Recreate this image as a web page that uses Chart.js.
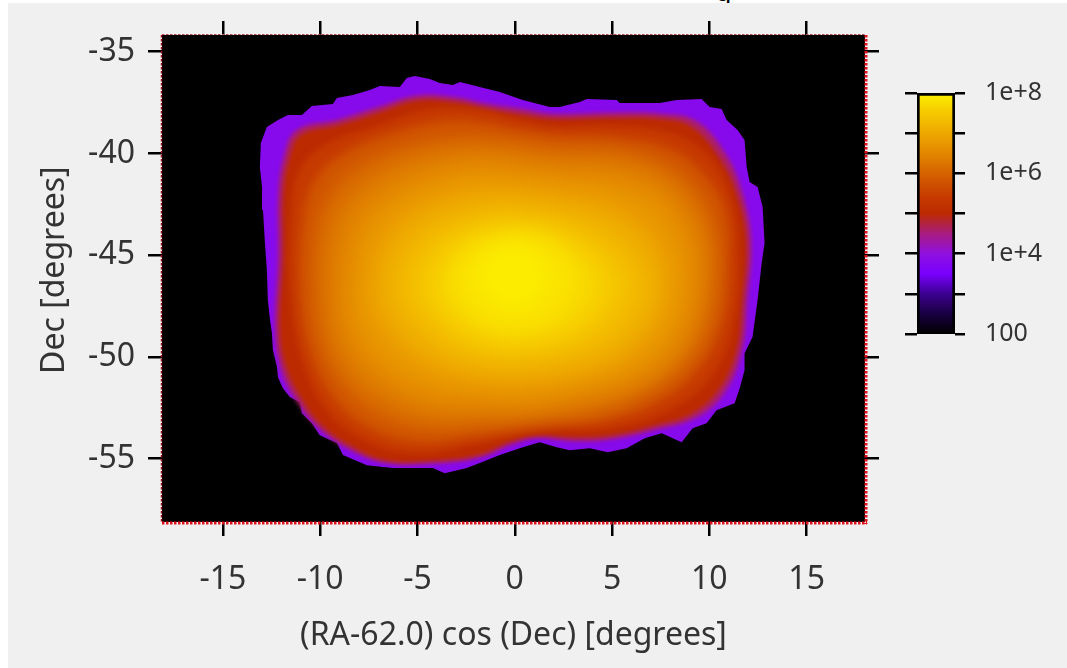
<!DOCTYPE html>
<html>
<head>
<meta charset="utf-8">
<script src="https://cdn.jsdelivr.net/npm/chart.js@4"></script>
<style>
html,body{margin:0;padding:0;background:#f0f0f0;width:1067px;height:668px;overflow:hidden}
#main{position:absolute;left:0;top:0}
#bar{position:absolute;left:880px;top:70px}
#topband{position:absolute;left:0;top:0;width:1067px;height:3px;background:#fff;overflow:hidden}
#leftband{position:absolute;left:0;top:0;width:8px;height:668px;background:#fff}
#topband span{position:absolute;left:715px;top:-28px;font:27px "Noto Sans";color:#000}
</style>
</head>
<body>
<canvas id="main" width="1067" height="668"></canvas>
<canvas id="bar" width="187" height="290"></canvas>
<div id="leftband"></div>
<div id="topband"><span>g</span></div>
<script>
const xTicks=[-15,-10,-5,0,5,10,15];
const yTicks=[-35,-40,-45,-50,-55];
const xLabel="(RA-62.0) cos (Dec) [degrees]";
const yLabel="  Dec [degrees]";
const cbTicks=[1e2,1e3,1e4,1e5,1e6,1e7,1e8];
const cbLabels={2:"100",4:"1e+4",6:"1e+6",8:"1e+8"};
const cbPos=[2,2.5,3,3.5,4,4.5,5,5.4,5.8,6.1,6.4,6.7,7,7.25,7.5,7.7,7.85,7.95,8];
const cbCol=["#000000","#180040","#3c0090","#7a00ff","#9010e0","#a81c80","#bc2a00","#c63a00","#d05500","#d86a00","#e08000","#e89400","#eea800","#f2b800","#f6c800","#f8d800","#fae400","#fbec00","#ffee00"];

const edge=[[-13.05,-39.49],[-12.74,-38.70],[-12.17,-38.36],[-11.66,-38.11],[-10.94,-38.11],[-10.43,-37.67],[-9.35,-37.57],[-9.14,-37.28],[-8.32,-37.13],[-7.45,-36.88],[-6.93,-36.69],[-5.91,-36.74],[-5.55,-36.29],[-5.14,-36.20],[-4.37,-36.34],[-3.85,-36.54],[-3.18,-36.64],[-2.82,-36.49],[-1.80,-36.74],[-0.77,-36.98],[0.41,-37.38],[1.80,-37.72],[2.31,-37.72],[3.34,-37.47],[3.70,-37.33],[5.24,-37.38],[5.39,-37.52],[7.45,-37.52],[8.32,-37.38],[9.60,-37.33],[10.02,-37.72],[10.63,-37.82],[10.89,-38.36],[11.45,-38.85],[11.81,-39.34],[11.92,-40.67],[12.07,-41.41],[12.48,-41.65],[12.74,-42.64],[12.84,-44.41],[12.69,-45.39],[12.48,-47.21],[12.22,-49.03],[11.81,-49.82],[11.81,-50.66],[11.56,-51.54],[11.30,-52.28],[10.37,-52.63],[9.86,-53.27],[9.14,-53.51],[8.58,-54.20],[8.12,-54.00],[7.55,-53.76],[6.68,-54.00],[5.75,-54.49],[4.78,-54.69],[3.85,-54.49],[2.82,-54.59],[2.16,-54.44],[1.28,-54.20],[0.41,-54.44],[-0.77,-54.83],[-1.80,-55.22],[-2.47,-55.47],[-3.60,-55.72],[-4.21,-55.47],[-5.24,-55.47],[-6.27,-55.47],[-7.60,-55.33],[-8.83,-54.83],[-9.14,-54.24],[-10.02,-53.85],[-10.43,-53.26],[-10.94,-52.77],[-11.04,-52.23],[-11.56,-51.98],[-11.92,-51.54],[-12.17,-51.00],[-12.22,-50.50],[-12.43,-49.67],[-12.48,-48.83],[-12.58,-48.19],[-12.69,-47.21],[-12.74,-45.73],[-12.84,-44.41],[-12.94,-42.78],[-12.99,-41.65],[-13.10,-40.67]];
const c46=[[0.3,-37.8],[2,-38.05],[5,-38],[7.5,-38.05],[9.3,-38.4],[10.75,-39.9],[11.65,-41.8],[12.15,-44.3],[11.95,-47.2],[11.65,-49.8],[10.75,-51.8],[9.3,-53],[7.2,-53.6],[5,-54.05],[3,-54.15],[1.1,-54],[-0.1,-54.3],[-1.8,-54.95],[-4.2,-55.25],[-6.6,-55.22],[-8.4,-54.6],[-10.1,-53.5],[-11.2,-52.2],[-11.95,-50.8],[-12.3,-48.8],[-12.15,-45],[-12.15,-42],[-11.85,-40.1],[-11.2,-38.85],[-9.1,-38.35],[-7.1,-37.75],[-5,-37.15],[-3,-37.25],[-1.5,-37.55]];
const c50=[[0.3,-38.1],[2,-38.3],[5,-38.25],[7.5,-38.3],[9.1,-38.7],[10.5,-40.2],[11.4,-42],[11.9,-44.3],[11.7,-47.2],[11.4,-49.7],[10.5,-51.6],[9.1,-52.8],[7.1,-53.4],[5,-53.85],[3,-53.95],[1.1,-53.85],[-0.1,-54.1],[-1.8,-54.8],[-4.2,-55.1],[-6.6,-55.1],[-8.3,-54.45],[-10,-53.3],[-11,-52],[-11.7,-50.65],[-12.07,-48.8],[-11.9,-45],[-11.9,-42],[-11.6,-40.3],[-11,-39.1],[-9,-38.6],[-7,-38],[-5,-37.4],[-3,-37.5],[-1.5,-37.8]];
const c54=[[0,-38.3],[2,-38.65],[5,-38.65],[8,-39],[10,-40.2],[11.15,-42.3],[11.5,-45],[11.3,-48],[10.25,-50.8],[8.2,-52.5],[5.1,-53.5],[1.5,-53.7],[-2,-54.3],[-5,-54.75],[-7.7,-54.1],[-9.7,-52.6],[-10.95,-50.1],[-11.5,-47],[-11.5,-43],[-11.05,-40.8],[-9.7,-39.55],[-7.1,-38.65],[-4.5,-37.85],[-2,-37.85]];
const c58=[[0,-38.8],[2.2,-39.1],[5,-39.2],[8,-39.8],[9.7,-41],[10.8,-42.8],[11,-45.5],[10.7,-48.2],[9.6,-50.4],[7.6,-52.1],[4.7,-53.1],[1.2,-53.4],[-2,-53.9],[-5,-54.2],[-7.5,-53.5],[-9.4,-51.9],[-10.5,-49.7],[-11,-47],[-10.9,-43.3],[-10.2,-41.2],[-8.6,-39.9],[-6.1,-38.95],[-3.5,-38.4],[-1.5,-38.5]];
const c61=[[0,-39.4],[2.3,-39.7],[5,-39.8],[7.6,-40.5],[9.3,-41.8],[10.2,-43.6],[10.4,-45.6],[10.1,-48],[9,-50.1],[7.1,-51.6],[4.4,-52.7],[1,-53.1],[-2,-53.4],[-4.8,-53.5],[-7.1,-52.8],[-8.8,-51.4],[-9.9,-49.4],[-10.3,-47],[-10.2,-44],[-9.5,-42],[-8,-40.6],[-5.7,-39.7],[-3,-39.25],[-1.2,-39.25]];
const c64=[[0,-40],[2.5,-40.3],[5,-40.4],[7.4,-41.1],[8.9,-42.4],[9.7,-44],[9.85,-46],[9.5,-48.2],[8.5,-50],[6.7,-51.4],[4,-52.3],[0.8,-52.8],[-2,-52.9],[-4.6,-52.8],[-6.7,-52],[-8.3,-50.8],[-9.3,-49],[-9.6,-47],[-9.5,-44.6],[-8.8,-42.7],[-7.3,-41.3],[-5.2,-40.35],[-2.8,-39.9],[-1.1,-39.9]];
const c67=[[0,-40.8],[2.5,-41.1],[4.9,-41.3],[7,-42],[8.3,-43.2],[9,-44.8],[9.1,-46.3],[8.7,-48.2],[7.7,-49.8],[5.9,-51],[3.5,-51.7],[0.7,-52.2],[-2,-52.1],[-4.2,-51.9],[-6,-51.2],[-7.5,-50],[-8.4,-48.5],[-8.6,-46.7],[-8.4,-44.8],[-7.7,-43.2],[-6.4,-42.1],[-4.5,-41.2],[-2.4,-40.7],[-1,-40.7]];
const c70=[[0,-41.7],[2.4,-42],[4.6,-42.4],[6.3,-43.2],[7.4,-44.3],[7.9,-45.6],[7.9,-46.9],[7.4,-48.4],[6.3,-49.6],[4.8,-50.5],[2.9,-51],[0.5,-51.3],[-1.8,-51.2],[-3.8,-50.8],[-5.4,-50],[-6.6,-48.9],[-7.3,-47.8],[-7.45,-46.5],[-7.2,-45],[-6.5,-43.8],[-5.3,-42.8],[-3.7,-42.1],[-2,-41.7]];
const c725=[[0,-42.5],[2.2,-42.8],[4.2,-43.3],[5.7,-44.2],[6.6,-45.2],[7,-46.3],[6.8,-47.5],[6,-48.7],[4.6,-49.7],[2.7,-50.3],[0.4,-50.55],[-1.7,-50.45],[-3.4,-50],[-4.8,-49.1],[-5.8,-48.1],[-6.35,-46.8],[-6.2,-45.6],[-5.6,-44.5],[-4.4,-43.5],[-3,-42.9],[-1.5,-42.55]];
const c75=[[0,-43.2],[2,-43.5],[3.6,-44.1],[4.9,-45],[5.6,-46],[5.65,-46.9],[5,-48],[3.9,-48.9],[2.3,-49.5],[0.3,-49.8],[-1.4,-49.7],[-2.9,-49.2],[-4,-48.4],[-4.9,-47.4],[-5.15,-46.5],[-4.8,-45.4],[-4,-44.4],[-2.8,-43.7],[-1.4,-43.3]];
const c77=[[0,-43.7],[1.8,-44],[3.1,-44.7],[4.1,-45.6],[4.35,-46.6],[3.9,-47.6],[2.9,-48.5],[1.6,-49],[0.2,-49.2],[-1.3,-49.05],[-2.6,-48.45],[-3.5,-47.6],[-4,-46.6],[-3.7,-45.6],[-3,-44.7],[-1.7,-44]];
const c785=[[0,-44],[1.6,-44.4],[2.7,-45.3],[3.1,-46.3],[2.6,-47.4],[1.5,-48.2],[0.1,-48.5],[-1.5,-48.2],[-2.5,-47.4],[-3,-46.3],[-2.6,-45.2],[-1.5,-44.4]];
const c795=[[0,-44.6],[1,-44.95],[1.7,-45.9],[1.2,-47],[0,-47.6],[-1.2,-47.1],[-1.9,-46.1],[-1.3,-45]];
const levels=[3.8,4.6,5,5.4,5.8,6.1,6.4,6.7,7,7.25,7.5,7.7,7.85,7.95];
const contours=[edge,c46,c50,c54,c58,c61,c64,c67,c70,c725,c75,c77,c785,c795];

const FONT='"Noto Sans"', TXT='#333';
const parse=h=>[parseInt(h.slice(1,3),16),parseInt(h.slice(3,5),16),parseInt(h.slice(5,7),16)];
function cmap(v){
  for(let i=1;i<cbPos.length;i++) if(v<=cbPos[i]){
    const t=(v-cbPos[i-1])/(cbPos[i]-cbPos[i-1]),a=parse(cbCol[i-1]),b=parse(cbCol[i]);
    return `rgb(${a.map((c,k)=>Math.round(c+(b[k]-c)*t)).join(',')})`;
  }
  return cbCol[cbCol.length-1];
}
const datasets=contours.map((c,i)=>({
  type:'scatter',showLine:true,fill:'shape',
  data:[...c,c[0]].map(p=>({x:p[0],y:p[1]})),
  backgroundColor:cmap(levels[i]),borderWidth:0,pointRadius:0,
  tension:i?0.4:0,order:contours.length-i
}));
const softness=[0,2,2,3,5,7,9,10,10,10,10,10,9,8];
const softFill={id:'softFill',
  beforeDatasetsDraw(ch){ch.ctx.filter='none';},
  afterDatasetDraw(ch,args){
    const b=softness[args.index+1]||0;
    ch.ctx.filter=b?`blur(${b}px)`:'none';
  },
  afterDatasetsDraw(ch){ch.ctx.filter='none';}
};
const frame={id:'frame',
  beforeDatasetsDraw(ch){const a=ch.chartArea,c=ch.ctx;c.save();c.fillStyle='#000';c.fillRect(a.left,a.top,a.right-a.left,a.bottom-a.top);c.restore();},
  afterDraw(ch){const a=ch.chartArea,c=ch.ctx;c.save();c.strokeStyle='#e0101c';
    c.setLineDash([2.5,1.5]);
    c.lineWidth=3;c.beginPath();c.moveTo(a.right+1,a.top);c.lineTo(a.right+1,a.bottom+2);c.moveTo(a.left,a.bottom+1);c.lineTo(a.right+2,a.bottom+1);c.stroke();
    c.lineWidth=1;c.strokeStyle='#c05050';c.beginPath();c.moveTo(a.left,a.top-.5);c.lineTo(a.right,a.top-.5);c.stroke();
    c.strokeStyle='#a01018';c.lineWidth=1.5;c.beginPath();c.moveTo(a.left-.5,a.top);c.lineTo(a.left-.5,a.bottom);c.stroke();
    c.restore();}
};
const tickGrid={drawOnChartArea:false,color:'#000',tickColor:'#000',lineWidth:2.5,tickLength:14,tickWidth:2.5};
const setTicks=arr=>s=>{s.ticks=arr.map(v=>({value:v}));};
new Chart(document.getElementById('main'),{
  data:{datasets},
  plugins:[frame,softFill],
  options:{responsive:false,animation:false,
    layout:{padding:0},
    plugins:{legend:{display:false},tooltip:{enabled:false},title:{display:false}},
    scales:{
      x:{type:'linear',position:'bottom',min:-18.13,max:18,afterBuildTicks:setTicks(xTicks),afterFit(s){s.height=146;},
        grid:tickGrid,border:{display:false},
        ticks:{font:{family:FONT,size:32},color:TXT,padding:25,autoSkip:false,maxRotation:0},
        title:{display:true,text:xLabel,font:{family:FONT,size:32},color:TXT,padding:{top:0,bottom:13}}},
      y:{type:'linear',position:'left',min:-58.12,max:-34.18,afterBuildTicks:setTicks(yTicks),afterFit(s){s.width=162;},
        grid:tickGrid,border:{display:false},
        ticks:{font:{family:FONT,size:32},color:TXT,padding:13,autoSkip:false},
        title:{display:true,text:yLabel,font:{family:FONT,size:32},color:TXT,padding:{top:36,bottom:0}}},
      x2:{type:'linear',position:'top',min:-18.13,max:18,afterBuildTicks:setTicks(xTicks),afterFit(s){s.height=35;},
        grid:tickGrid,border:{display:false},ticks:{display:false}},
      y2:{type:'linear',position:'right',min:-58.12,max:-34.18,afterBuildTicks:setTicks(yTicks),afterFit(s){s.width=202;},
        grid:tickGrid,border:{display:false},ticks:{display:false}}
    }
  }
});
function barFill(ctx){
  const a=ctx.chart.chartArea; if(!a) return '#000';
  const g=ctx.chart.ctx.createLinearGradient(0,a.bottom,0,a.top);
  cbPos.forEach((p,i)=>g.addColorStop((p-2)/6,cbCol[i]));
  return g;
}
const cbGrid={drawOnChartArea:false,color:'#000',tickColor:'#000',lineWidth:2.5,tickWidth:2.5};
new Chart(document.getElementById('bar'),{
  type:'bar',
  data:{labels:['c'],datasets:[{data:[[1e2,1e8]],backgroundColor:barFill,borderColor:'#000',borderWidth:3,borderSkipped:false,barPercentage:1,categoryPercentage:1,yAxisID:'y'}]},
  options:{responsive:false,animation:false,
    layout:{padding:{top:23,bottom:26}},
    plugins:{legend:{display:false},tooltip:{enabled:false}},
    scales:{
      x:{display:false},
      y:{type:'logarithmic',position:'left',min:1e2,max:1e8,afterBuildTicks:setTicks(cbTicks),afterFit(s){s.width=37;s.paddingTop=0;s.paddingBottom=0;},
        grid:{...cbGrid,tickLength:12},border:{display:false},ticks:{display:false}},
      y2:{type:'logarithmic',position:'right',min:1e2,max:1e8,afterBuildTicks:setTicks(cbTicks),afterFit(s){s.width=112;s.paddingTop=0;s.paddingBottom=0;},
        grid:{...cbGrid,tickLength:10},border:{display:false},
        ticks:{font:{family:FONT,size:25},color:TXT,padding:20,autoSkip:false,
          callback(v){return cbLabels[Math.round(Math.log10(v))]||'';}}}
    }
  }
});
</script>
</body>
</html>
